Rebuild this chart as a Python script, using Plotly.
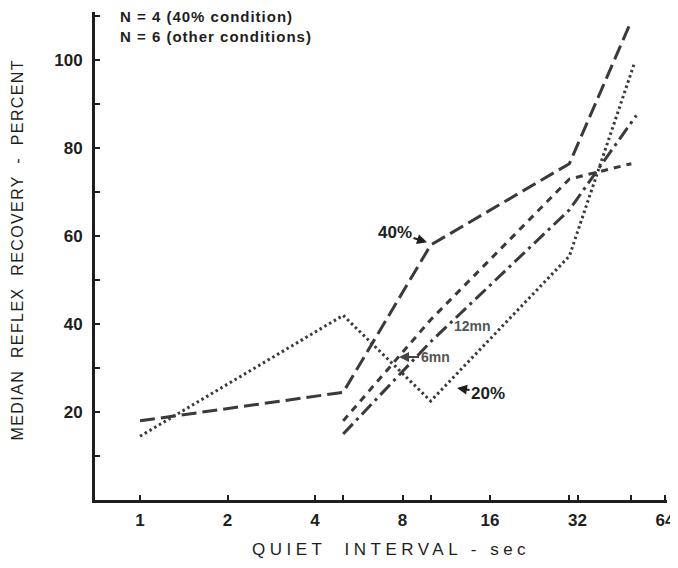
import math
import plotly.graph_objects as go

# ---- data ----
x_40 = [1, 5, 10, 30, 49]
y_40 = [18, 24.5, 58, 76.5, 109]

x_20 = [1, 5, 10, 30, 50]
y_20 = [14.5, 42, 22.5, 55.5, 99]

x_12 = [5, 10, 30, 49]
y_12 = [18, 41, 73, 76.5]

x_6 = [5, 10, 30, 51]
y_6 = [15, 36, 66, 87.5]

x_tickvals = [1, 2, 4, 8, 16, 32, 64]
x_ticktext = ["1", "2", "4", "8", "16", "32", "64"]
x_minor = [5, 10, 30, 49]
y_tickvals = [20, 40, 60, 80, 100]
y_minor = [10, 30, 50, 70, 90, 110]

LINE = "#3a3a3a"
INK = "#1e1e1e"
FONT = "Liberation Sans Narrow, Liberation Sans, Arial Narrow, sans-serif"
TFONT = "Liberation Sans, Arial, sans-serif"

fig = go.Figure()
fig.add_trace(go.Scatter(x=x_40, y=y_40, mode="lines", name="40%",
                         line=dict(color=LINE, width=3, dash="15px,6px")))
fig.add_trace(go.Scatter(x=x_20, y=y_20, mode="lines", name="20%",
                         line=dict(color=LINE, width=3, dash="2.5px,3px")))
fig.add_trace(go.Scatter(x=x_12, y=y_12, mode="lines", name="12mn",
                         line=dict(color=LINE, width=3, dash="7px,6px")))
fig.add_trace(go.Scatter(x=x_6, y=y_6, mode="lines", name="6mn",
                         line=dict(color=LINE, width=3, dash="14px,5px,3px,5px")))

def px_to_x(px):
    return 2 ** ((px - 140) / 87.5)

def py_to_y(py):
    return 20 + (412 - py) / 4.4

ann_font = dict(family=FONT, size=17, color=INK, weight="bold")
fig.add_annotation(x=math.log10(px_to_x(427)), y=py_to_y(242), text="40%",
                   showarrow=True, arrowhead=2, arrowsize=1, arrowwidth=2,
                   arrowcolor=INK, ax=-32, ay=-10, font=ann_font)
fig.add_annotation(x=math.log10(px_to_x(472)), y=py_to_y(326), text="12mn",
                   showarrow=False, font=dict(family=TFONT, size=14, color="#555", weight="bold"))
fig.add_annotation(x=math.log10(px_to_x(399)), y=py_to_y(357), text="6mn",
                   showarrow=True, arrowhead=2, arrowsize=1, arrowwidth=2,
                   arrowcolor="#444", ax=20, ay=0, xanchor="left",
                   font=dict(family=TFONT, size=14, color="#555", weight="bold"))
fig.add_annotation(x=math.log10(px_to_x(457)), y=py_to_y(388), text="20%",
                   showarrow=True, arrowhead=2, arrowsize=1, arrowwidth=2,
                   arrowcolor=INK, ax=31, ay=5, font=ann_font)
fig.add_annotation(xref="paper", yref="paper", x=0.040, y=1.012, xanchor="left", yanchor="top",
                   text='<span style="letter-spacing:1px">N = 4 (40% condition)<br>N = 6 (other conditions)</span>',
                   align="left", showarrow=False,
                   font=dict(family=FONT, size=15, color=INK, weight="bold"))

# axis titles as annotations (fixed positions)
fig.add_annotation(xref="paper", yref="paper", x=0.517, y=-0.102, yanchor="middle",
                   text='<span style="letter-spacing:4.5px">QUIET  INTERVAL - sec</span>',
                   showarrow=False, font=dict(family=TFONT, size=17, color=INK))
fig.add_annotation(xref="paper", yref="paper", x=-0.135, y=0.513, xanchor="center", yanchor="middle",
                   textangle=-90,
                   text='<span style="letter-spacing:1.4px">MEDIAN  REFLEX  RECOVERY  -  PERCENT</span>',
                   showarrow=False, font=dict(family=TFONT, size=16, color=INK))

# page body has an 8px default margin: size/margins compensate so the plot
# area sits where the reference's does within the 678x568 window
fig.update_layout(
    width=670, height=560,
    margin=dict(l=87, r=11, t=4, b=68),
    paper_bgcolor="white", plot_bgcolor="white",
    showlegend=False, hovermode=False,
    font=dict(family=FONT, color=INK),
    xaxis=dict(
        type="log", range=[math.log10(0.70), math.log10(65)],
        tickvals=x_tickvals, ticktext=x_ticktext,
        ticks="inside", ticklen=5, tickwidth=2, tickcolor=INK,
        minor=dict(tickvals=x_minor, ticks="inside", ticklen=5, tickwidth=2, tickcolor=INK),
        showline=True, linewidth=3, linecolor=INK,
        showgrid=False, zeroline=False, automargin=False,
        tickfont=dict(family=FONT, size=17, color=INK, weight="bold"),
        ticklabelstandoff=3,
    ),
    yaxis=dict(
        range=[0, 111],
        tickvals=y_tickvals,
        ticks="inside", ticklen=5, tickwidth=2, tickcolor=INK,
        minor=dict(tickvals=y_minor, ticks="inside", ticklen=5, tickwidth=2, tickcolor=INK),
        showline=True, linewidth=3, linecolor=INK,
        showgrid=False, zeroline=False, automargin=False,
        tickfont=dict(family=FONT, size=17, color=INK, weight="bold"),
        ticklabelstandoff=6,
    ),
)

fig.write_html("out.html")
